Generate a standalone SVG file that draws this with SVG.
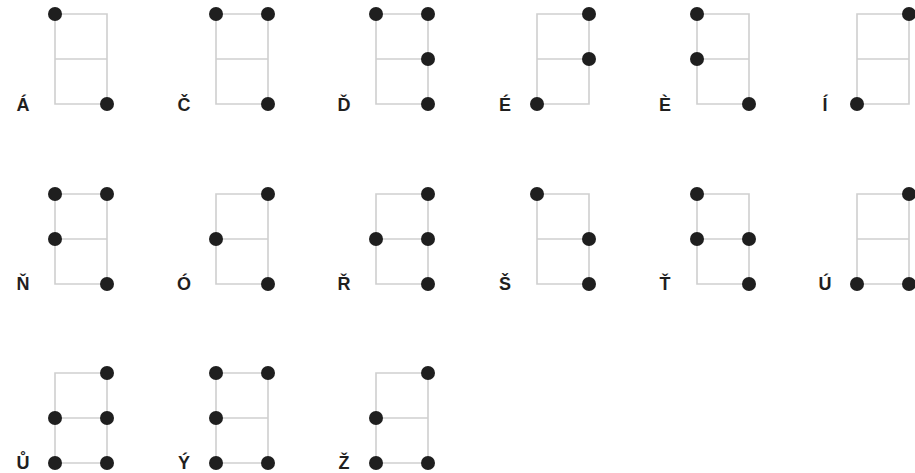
<svg xmlns="http://www.w3.org/2000/svg" width="915" height="473" viewBox="0 0 915 473">
<style>
.grid{fill:none;stroke:#cfcfcf;stroke-width:1.6}
.dot{fill:#1f1f1f}
.lbl{font-family:"Liberation Sans",Arial,sans-serif;font-weight:bold;font-size:18px;fill:#1f1f1f;text-anchor:middle}
</style>
<defs>
<path id="g" class="grid" d="M0,0H52V90H0Z M0,45H52"/>
<circle id="d" class="dot" r="7"/>
</defs>
<rect width="915" height="473" fill="#fff"/>
<g id="connectors"/>
<g id="n-A" transform="translate(55,14)"><use href="#g"/><use href="#d" x="0" y="0"/><use href="#d" x="52" y="90"/><text class="lbl" x="-32" y="97">Á</text></g>
<g id="n-C" transform="translate(216,14)"><use href="#g"/><use href="#d" x="0" y="0"/><use href="#d" x="52" y="0"/><use href="#d" x="52" y="90"/><text class="lbl" x="-32" y="97">Č</text></g>
<g id="n-D" transform="translate(376,14)"><use href="#g"/><use href="#d" x="0" y="0"/><use href="#d" x="52" y="0"/><use href="#d" x="52" y="45"/><use href="#d" x="52" y="90"/><text class="lbl" x="-32" y="97">Ď</text></g>
<g id="n-E1" transform="translate(537,14)"><use href="#g"/><use href="#d" x="52" y="0"/><use href="#d" x="52" y="45"/><use href="#d" x="0" y="90"/><text class="lbl" x="-32" y="97">É</text></g>
<g id="n-E2" transform="translate(697,14)"><use href="#g"/><use href="#d" x="0" y="0"/><use href="#d" x="0" y="45"/><use href="#d" x="52" y="90"/><text class="lbl" x="-32" y="97">È</text></g>
<g id="n-I" transform="translate(857,14)"><use href="#g"/><use href="#d" x="52" y="0"/><use href="#d" x="0" y="90"/><text class="lbl" x="-32" y="97">Í</text></g>
<g id="n-N" transform="translate(55,194)"><use href="#g"/><use href="#d" x="0" y="0"/><use href="#d" x="52" y="0"/><use href="#d" x="0" y="45"/><use href="#d" x="52" y="90"/><text class="lbl" x="-32" y="96">Ň</text></g>
<g id="n-O" transform="translate(216,194)"><use href="#g"/><use href="#d" x="52" y="0"/><use href="#d" x="0" y="45"/><use href="#d" x="52" y="90"/><text class="lbl" x="-32" y="96">Ó</text></g>
<g id="n-R" transform="translate(376,194)"><use href="#g"/><use href="#d" x="52" y="0"/><use href="#d" x="0" y="45"/><use href="#d" x="52" y="45"/><use href="#d" x="52" y="90"/><text class="lbl" x="-32" y="96">Ř</text></g>
<g id="n-S" transform="translate(537,194)"><use href="#g"/><use href="#d" x="0" y="0"/><use href="#d" x="52" y="45"/><use href="#d" x="52" y="90"/><text class="lbl" x="-32" y="96">Š</text></g>
<g id="n-T" transform="translate(697,194)"><use href="#g"/><use href="#d" x="0" y="0"/><use href="#d" x="0" y="45"/><use href="#d" x="52" y="45"/><use href="#d" x="52" y="90"/><text class="lbl" x="-32" y="96">Ť</text></g>
<g id="n-U1" transform="translate(857,194)"><use href="#g"/><use href="#d" x="52" y="0"/><use href="#d" x="0" y="90"/><use href="#d" x="52" y="90"/><text class="lbl" x="-32" y="96">Ú</text></g>
<g id="n-U2" transform="translate(55,373)"><use href="#g"/><use href="#d" x="52" y="0"/><use href="#d" x="0" y="45"/><use href="#d" x="52" y="45"/><use href="#d" x="0" y="90"/><use href="#d" x="52" y="90"/><text class="lbl" x="-32" y="96">Ů</text></g>
<g id="n-Y" transform="translate(216,373)"><use href="#g"/><use href="#d" x="0" y="0"/><use href="#d" x="52" y="0"/><use href="#d" x="0" y="45"/><use href="#d" x="0" y="90"/><use href="#d" x="52" y="90"/><text class="lbl" x="-32" y="96">Ý</text></g>
<g id="n-Z" transform="translate(376,373)"><use href="#g"/><use href="#d" x="52" y="0"/><use href="#d" x="0" y="45"/><use href="#d" x="0" y="90"/><use href="#d" x="52" y="90"/><text class="lbl" x="-32" y="96">Ž</text></g>
</svg>
